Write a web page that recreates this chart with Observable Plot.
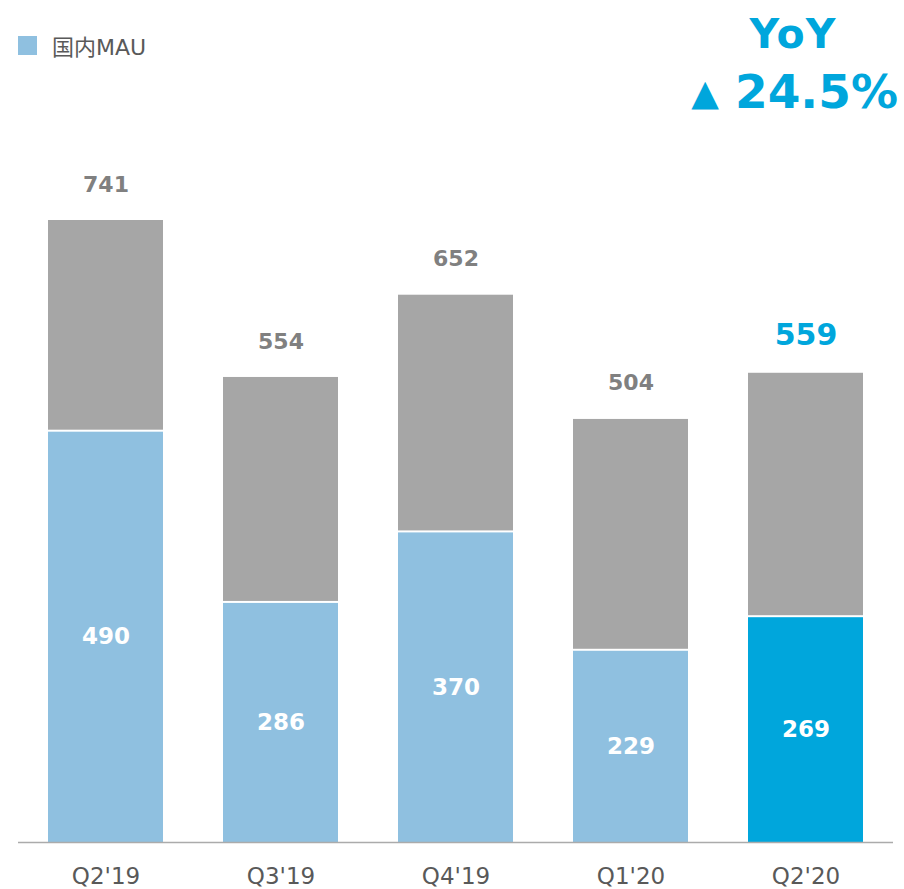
<!DOCTYPE html>
<html><head><meta charset="utf-8">
<script src="https://cdn.jsdelivr.net/npm/d3@7"></script>
<script src="https://cdn.jsdelivr.net/npm/@observablehq/plot@0.6"></script>
<style>
body{margin:0;background:#fff;font-family:"DejaVu Sans",sans-serif;}
#wrap{position:relative;width:904px;height:889px;}
#legend{position:absolute;left:18px;top:29px;display:flex;align-items:center;font-family:"DejaVu Sans","Noto Sans CJK JP",sans-serif;font-size:22px;color:#595959;}
#legend .sw{width:19px;height:19px;background:#8fc0e0;margin-right:15px;}
#yoy1{position:absolute;left:693px;width:200px;top:6px;text-align:center;color:#00a6dc;font-weight:bold;font-size:41px;line-height:56px;letter-spacing:1px;}
#yoy2{position:absolute;right:6px;top:62px;color:#00a6dc;font-weight:bold;font-size:47px;line-height:60px;white-space:nowrap;}
#yoy2 .tri{font-size:36px;vertical-align:3px;margin-right:16px;}
</style></head>
<body><div id="wrap">
<div id="chart"></div>
<div id="legend"><div class="sw"></div>国内MAU</div>
<div id="yoy1">YoY</div>
<div id="yoy2"><span class="tri">▲</span>24.5%</div>
</div>
<script>
const quarters = ["Q2'19","Q3'19","Q4'19","Q1'20","Q2'20"];
const totals = [741, 554, 652, 504, 559];
const domestic = [490, 286, 370, 229, 269];

const data = quarters.map((q,i)=>({q, total: totals[i], dom: domestic[i], last: i===quarters.length-1}));

const chart = Plot.plot({
  width: 904, height: 889,
  marginLeft: 18, marginRight: 11, marginTop: 220, marginBottom: 47,
  style: {fontFamily: "DejaVu Sans, sans-serif", background: "transparent"},
  x: {domain: quarters, paddingInner: 0.343, paddingOuter: 0.1715, label: null},
  y: {domain: [0, 741], axis: null},
  marks: [
    Plot.rectY(data, {x: "q", y1: "dom", y2: "total", fill: "#a6a6a6", insetBottom: 1}),
    Plot.rectY(data, {x: "q", y1: 0, y2: "dom", fill: d => d.last ? "#00a6dc" : "#8fc0e0", insetTop: 1}),
    Plot.ruleY([0], {stroke: "#ababab", strokeWidth: 1.5}),
    Plot.text(data, {x: "q", y: d => d.dom/2, text: d => String(d.dom), fill: "white", fontWeight: "bold", fontSize: 23}),
    Plot.text(data.filter(d=>!d.last), {x: "q", y: "total", text: d => String(d.total), fill: "#808080", fontWeight: "bold", fontSize: 22, dy: -36}),
    Plot.text(data.filter(d=>d.last), {x: "q", y: "total", text: d => String(d.total), fill: "#00a6dc", fontWeight: "bold", fontSize: 30, dy: -38}),
    Plot.axisX({tickSize: 0, tickPadding: 25, fontSize: 23, color: "#595959", label: null})
  ]
});
document.getElementById("chart").appendChild(chart);
</script>
</body></html>
